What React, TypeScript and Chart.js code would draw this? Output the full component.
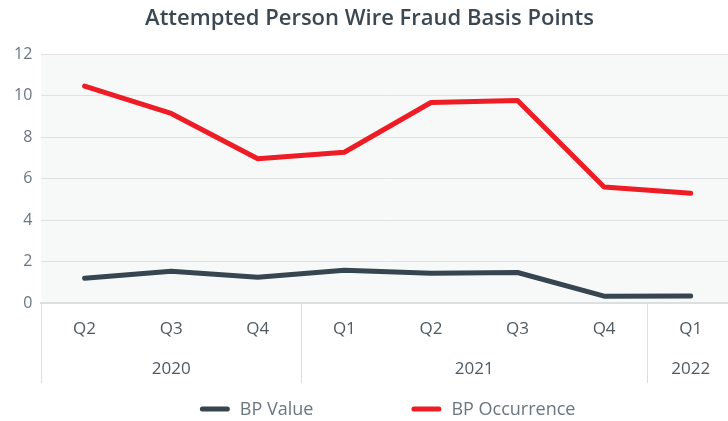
import React, { useEffect, useRef } from "react";
import { Chart, registerables } from "chart.js";

Chart.register(...registerables);

const quarters = ["Q2", "Q3", "Q4", "Q1", "Q2", "Q3", "Q4", "Q1"];
const years = ["2020", "2020", "2020", "2021", "2021", "2021", "2021", "2022"];
const bpValue = [1.2, 1.54, 1.25, 1.59, 1.44, 1.48, 0.34, 0.35];
const bpOccurrence = [10.47, 9.15, 6.97, 7.28, 9.68, 9.78, 5.6, 5.3];
const yTicks = [0, 2, 4, 6, 8, 10, 12];

const FONT = "'Open Sans', 'Noto Sans', sans-serif";

type Group = { label: string; start: number; end: number };
function buildGroups(): Group[] {
  const groups: Group[] = [];
  years.forEach((y, i) => {
    const last = groups[groups.length - 1];
    if (last && last.label === y) last.end = i;
    else groups.push({ label: y, start: i, end: i });
  });
  return groups;
}

export default function App() {
  const ref = useRef<HTMLCanvasElement | null>(null);

  useEffect(() => {
    if (!ref.current) return;
    const groups = buildGroups();
    const centers = groups.map((g) => (g.start + g.end) / 2);

    const bgPlugin = {
      id: "bgPlugin",
      beforeDraw(chart: any) {
        const { ctx, chartArea } = chart;
        ctx.save();
        ctx.fillStyle = "#f7f9f9";
        ctx.fillRect(chartArea.left, chartArea.top, chartArea.right - chartArea.left, chartArea.bottom - chartArea.top);
        ctx.restore();
      },
      afterDraw(chart: any) {
        const { ctx, chartArea } = chart;
        const xs = chart.scales.x;
        const x2 = chart.scales.x2;
        ctx.save();
        ctx.strokeStyle = "#dcdfe1";
        ctx.lineWidth = 1;
        groups.forEach((g) => {
          const px = Math.round(xs.getPixelForValue(g.start - 0.5)) + 0.5;
          ctx.beginPath();
          ctx.moveTo(px, chartArea.bottom);
          ctx.lineTo(px, x2.bottom);
          ctx.stroke();
        });
        ctx.restore();

        // legend drawn from dataset labels and colours
        const ds = chart.data.datasets;
        ctx.save();
        ctx.font = `18px ${FONT}`;
        ctx.textBaseline = "middle";
        const markerW = 30;
        const textGap = 10;
        const itemGap = 98;
        const widths = ds.map((d: any) => markerW + textGap + ctx.measureText(d.label).width);
        const total = widths.reduce((a: number, b: number) => a + b, 0) + itemGap * (ds.length - 1);
        const cx = (chartArea.left + chartArea.right) / 2;
        let x = cx - total / 2;
        const y = chart.height - 12;
        ds.forEach((d: any, i: number) => {
          ctx.strokeStyle = d.borderColor;
          ctx.lineWidth = 5;
          ctx.lineCap = "round";
          ctx.beginPath();
          ctx.moveTo(x + 2.5, y);
          ctx.lineTo(x + markerW - 2.5, y);
          ctx.stroke();
          ctx.fillStyle = "#6b7580";
          ctx.textAlign = "left";
          ctx.fillText(d.label, x + markerW + textGap, y + 1);
          x += widths[i] + itemGap;
        });
        ctx.restore();
      },
    };

    const chart = new Chart(ref.current, {
      type: "line",
      data: {
        labels: quarters,
        datasets: [
          {
            label: "BP Value",
            data: bpValue,
            borderColor: "#36454f",
            backgroundColor: "#36454f",
            borderWidth: 5,
            borderCapStyle: "round",
            borderJoinStyle: "round",
            pointRadius: 0,
            tension: 0,
            xAxisID: "x",
          },
          {
            label: "BP Occurrence",
            data: bpOccurrence,
            borderColor: "#ee1c25",
            backgroundColor: "#ee1c25",
            borderWidth: 5,
            borderCapStyle: "round",
            borderJoinStyle: "round",
            pointRadius: 0,
            tension: 0,
            xAxisID: "x",
          },
        ],
      },
      options: {
        animation: false,
        responsive: true,
        maintainAspectRatio: false,
        layout: { padding: { left: 5, right: 0, top: 0, bottom: 38 } },
        plugins: {
          title: {
            display: true,
            text: "Attempted Person Wire Fraud Basis Points",
            color: "#3b4852",
            font: { family: FONT, size: 22, weight: "600" },
            padding: { top: 6, bottom: 22 },
          },
          legend: { display: false },
          tooltip: { enabled: false },
        },
        scales: {
          y: {
            min: 0,
            max: 12,
            afterBuildTicks: (axis: any) => {
              axis.ticks = yTicks.map((v) => ({ value: v }));
            },
            ticks: {
              color: "#6b7580",
              font: { family: FONT, size: 16 },
              padding: 9,
            },
            grid: { color: "#dfe2e4", drawTicks: false, lineWidth: 1 },
            border: { display: false },
          },
          x: {
            type: "category",
            offset: true,
            ticks: {
              color: "#4f5a63",
              font: { family: FONT, size: 17 },
              padding: 16,
              autoSkip: false,
              maxRotation: 0,
            },
            grid: { display: false, drawTicks: false },
            border: { display: true, color: "#dcdfe1", width: 2 },
          },
          x2: {
            type: "linear",
            position: "bottom",
            min: -0.5,
            max: 7.5,
            afterBuildTicks: (axis: any) => {
              axis.ticks = centers.map((v) => ({ value: v }));
            },
            ticks: {
              color: "#4f5a63",
              font: { family: FONT, size: 17 },
              padding: 3.5,
              autoSkip: false,
              maxRotation: 0,
              callback: (v: any) => {
                const i = centers.indexOf(Number(v));
                return i >= 0 ? groups[i].label : "";
              },
            },
            grid: { display: false, drawTicks: false },
            border: { display: false },
          },
        },
      } as any,
      plugins: [bgPlugin],
    });
    return () => chart.destroy();
  }, []);

  return (
    <div style={{ position: "fixed", left: 0, top: 0, width: 728, height: 421, background: "#fff", overflow: "hidden" }}>
      <div style={{ position: "relative", width: 734, height: 421 }}>
        <canvas ref={ref} />
      </div>
    </div>
  );
}
